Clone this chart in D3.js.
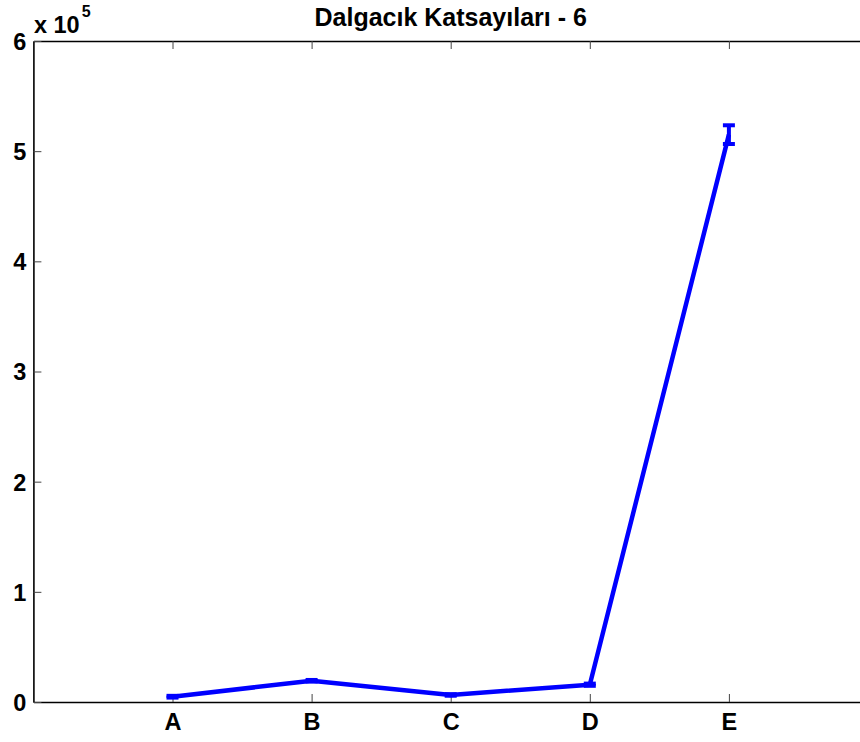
<!DOCTYPE html>
<html>
<head>
<meta charset="utf-8">
<script src="https://cdn.jsdelivr.net/npm/d3@7"></script>
<style>
  html, body { margin: 0; padding: 0; background: #fff; }
  svg { display: block; }
  text { font-family: "Liberation Sans", Arial, Helvetica, sans-serif; font-weight: bold; fill: #000; }
</style>
</head>
<body>
<script>
// Wavelet coefficient means per class, with their error half-widths
const categories = ["A", "B", "C", "D", "E"];
const means = [4800, 19300, 6400, 15700, 515000];
const errors = [800, 700, 700, 1000, 8500];
const yTicks = [0, 100000, 200000, 300000, 400000, 500000, 600000];
const titleText = "Dalgacık Katsayıları - 6";

const W = 860, H = 742;
const plot = { left: 33.4, right: 868, top: 41, bottom: 702 };

const svg = d3.select("body").append("svg")
  .attr("width", W).attr("height", H);

const x = d3.scaleLinear().domain([0, categories.length + 1]).range([plot.left, plot.right]);
const y = d3.scaleLinear().domain([0, 600000]).range([plot.bottom, plot.top]);

const fontSize = 23.5;

// Bottom axis with inward ticks
const xAxis = svg.append("g")
  .attr("transform", `translate(0,${plot.bottom})`)
  .call(d3.axisBottom(x)
    .tickValues(categories.map((_, i) => i + 1))
    .tickFormat((d) => categories[d - 1])
    .tickSizeInner(-8).tickSizeOuter(0).tickPadding(0));
xAxis.select(".domain").attr("stroke", "#000").attr("stroke-width", 1.6);
xAxis.selectAll(".tick line").attr("stroke", "#444").attr("stroke-width", 1);
xAxis.selectAll(".tick text").style("font-size", fontSize + "px").attr("y", 28).attr("dy", 0);

// Top axis: ticks only
const xTop = svg.append("g")
  .attr("transform", `translate(0,${plot.top})`)
  .call(d3.axisTop(x)
    .tickValues(categories.map((_, i) => i + 1))
    .tickFormat("")
    .tickSizeInner(-8).tickSizeOuter(0));
xTop.select(".domain").attr("stroke", "#000").attr("stroke-width", 1.6);
xTop.selectAll(".tick line").attr("stroke", "#444").attr("stroke-width", 1);

// Left axis
const yAxis = svg.append("g")
  .attr("transform", `translate(${plot.left},0)`)
  .call(d3.axisLeft(y)
    .tickValues(yTicks)
    .tickFormat((d) => d / 100000)
    .tickSizeInner(-8).tickSizeOuter(0).tickPadding(7));
yAxis.select(".domain").attr("stroke", "#000").attr("stroke-width", 1.6);
yAxis.selectAll(".tick line").attr("stroke", "#444").attr("stroke-width", 1);
yAxis.selectAll(".tick text").style("font-size", fontSize + "px").attr("x", -7).attr("dy", "0.36em");

// Exponent label
const expo = svg.append("text")
  .attr("x", plot.left + 0.5).attr("y", 33)
  .style("font-size", fontSize + "px");
expo.append("tspan").text("x 10");
expo.append("tspan").attr("dy", -16).attr("dx", 2).style("font-size", "16px").text("5");

// Title
svg.append("text")
  .attr("x", (plot.left + plot.right) / 2).attr("y", 26)
  .attr("text-anchor", "middle")
  .style("font-size", "25px")
  .text(titleText);

// Mean line
const pts = means.map((m, i) => ({ xv: i + 1, m, e: errors[i] }));
svg.append("path")
  .datum(pts)
  .attr("fill", "none")
  .attr("stroke", "#0000ff")
  .attr("stroke-width", 4.5)
  .attr("stroke-linejoin", "round")
  .attr("d", d3.line().x((d) => x(d.xv)).y((d) => y(d.m)));

// Error bars
const capHalf = 6;
const eb = svg.append("g").attr("stroke", "#0000ff").attr("stroke-width", 4).attr("fill", "none");
pts.forEach((d) => {
  const cx = x(d.xv);
  eb.append("line").attr("x1", cx).attr("x2", cx).attr("y1", y(d.m - d.e)).attr("y2", y(d.m + d.e));
  eb.append("line").attr("x1", cx - capHalf).attr("x2", cx + capHalf).attr("y1", y(d.m - d.e)).attr("y2", y(d.m - d.e));
  eb.append("line").attr("x1", cx - capHalf).attr("x2", cx + capHalf).attr("y1", y(d.m + d.e)).attr("y2", y(d.m + d.e));
});
</script>
</body>
</html>
